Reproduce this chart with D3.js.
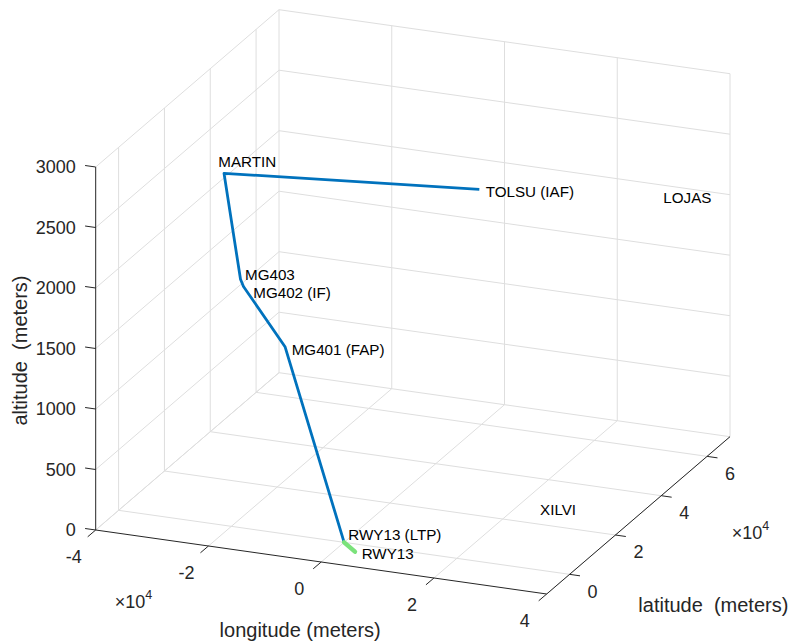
<!DOCTYPE html>
<html>
<head>
<meta charset="UTF-8">
<title>Approach RWY13</title>
<script src="https://cdnjs.cloudflare.com/ajax/libs/d3/7.8.5/d3.min.js"></script>
<style>
  body, html { margin: 0; padding: 0; background: #fff; overflow: hidden; }
  svg { font-family: "Liberation Sans", Arial, sans-serif; display: block; }
  text { white-space: pre; }
</style>
</head>
<body>
<div id="chart"></div>
<script>
// flown approach path (metres, relative to the RWY13 threshold)
const approachLon = [5180, -36520, -32380, -30650, -17940, 0];
const approachLat = [46270, 37440, 34450, 31490, 18350, 0];
const approachAlt = [2200, 2200, 1400, 1400, 1200, 0];

// runway segment
const runwayLon = [0, 3300];
const runwayLat = [0, -3400];
const runwayAlt = [0, 0];

// waypoint labels
const wpNames = ["TOLSU (IAF)", "MARTIN", "LOJAS", "MG403", "MG402 (IF)", "MG401 (FAP)", "XILVI", "RWY13 (LTP)", "RWY13"];
const wpLon = [6450, -39450, 34670, -32510, -28060, -16520, 30400, 500, 4620];
const wpLat = [45920, 42150, 54000, 36740, 29390, 17760, 10710, 600, -3700];
const wpAlt = [2200, 2200, 2200, 1400, 1400, 1200, 300, 60, 0];

// axes
const lonTicks = [-40000, -20000, 0, 20000, 40000];
const latTicks = [0, 20000, 40000, 60000];
const altTicks = [0, 500, 1000, 1500, 2000, 2500, 3000];

const W = 793, H = 643;
const svg = d3.select("#chart").append("svg").attr("width", W).attr("height", H);
svg.append("rect").attr("width", W).attr("height", H).attr("fill", "#fff");

const xS = d3.scaleLinear().domain([-40000, 40000]).range([0, 1]);
const yS = d3.scaleLinear().domain([-10000, 70000]).range([0, 1]);
const zS = d3.scaleLinear().domain([0, 3000]).range([0, 1]);

// orthographic view: screen vectors of the plot box edges
const O = [95.7, 530];
const EX = [451, 64], EY = [183.3, -157.3], EZ = [0, -363];

function proj(x, y, z) {
  const u = xS(x), v = yS(y), w = zS(z);
  return [O[0] + u * EX[0] + v * EY[0] + w * EZ[0],
          O[1] + u * EX[1] + v * EY[1] + w * EZ[1]];
}

const [x0, x1] = xS.domain(), [y0, y1] = yS.domain(), [z0, z1] = zS.domain();
const line3 = d3.line();
const grid = svg.append("g").attr("stroke", "#dedede").attr("stroke-width", 1).attr("fill", "none");
function seg(g, a, b) { g.append("path").attr("d", line3([proj(...a), proj(...b)])); }

// left wall (x = min)
latTicks.forEach(t => seg(grid, [x0, t, z0], [x0, t, z1]));
altTicks.forEach(t => seg(grid, [x0, y0, t], [x0, y1, t]));
// back wall (y = max)
lonTicks.forEach(t => seg(grid, [t, y1, z0], [t, y1, z1]));
altTicks.forEach(t => seg(grid, [x0, y1, t], [x1, y1, t]));
// floor
lonTicks.forEach(t => seg(grid, [t, y0, z0], [t, y1, z0]));
latTicks.forEach(t => seg(grid, [x0, t, z0], [x1, t, z0]));

// axis lines and ticks
const axc = "#262626";
const ax = svg.append("g").attr("stroke", axc).attr("stroke-width", 1).attr("fill", "none");
seg(ax, [x0, y0, z0], [x1, y0, z0]);
seg(ax, [x1, y0, z0], [x1, y1, z0]);
seg(ax, [x0, y0, z0], [x0, y0, z1]);

const tickTxt = svg.append("g").attr("fill", axc).style("font-size", "18px");

lonTicks.forEach(t => {
  const p = proj(t, y0, z0);
  ax.append("path").attr("d", line3([p, [p[0] - 8, p[1] + 6.8]]));
  tickTxt.append("text").attr("x", p[0] - 22).attr("y", p[1] + 27)
    .attr("text-anchor", "middle").attr("dominant-baseline", "central").text(t / 1e4);
});
latTicks.forEach(t => {
  const p = proj(x1, t, z0);
  ax.append("path").attr("d", line3([p, [p[0] + 10.4, p[1] + 1.5]]));
  tickTxt.append("text").attr("x", p[0] + 23).attr("y", p[1] + 17.4)
    .attr("text-anchor", "middle").attr("dominant-baseline", "central").text(t / 1e4);
});
altTicks.forEach(t => {
  const p = proj(x0, y0, t);
  ax.append("path").attr("d", line3([p, [p[0] - 10.6, p[1] - 1.5]]));
  tickTxt.append("text").attr("x", p[0] - 20).attr("y", p[1])
    .attr("text-anchor", "end").attr("dominant-baseline", "central").text(t);
});

// x10^4 exponent labels
function expLabel(x, y) {
  const t = tickTxt.append("text").attr("x", x).attr("y", y).attr("dominant-baseline", "central");
  t.append("tspan").text("\u00d710");
  t.append("tspan").attr("dy", -7).style("font-size", "12.5px").text("4");
}
const pL = proj(x0, y0, z0);
expLabel(pL[0] + 19, pL[1] + 71.7);
const pR = proj(x1, y1, z0);
expLabel(pR[0] + 1.7, pR[1] + 96.6);

// axis titles
const pLon = proj(0, y0, z0);
svg.append("text").attr("x", pLon[0] - 21).attr("y", pLon[1] + 68)
  .attr("text-anchor", "middle").attr("dominant-baseline", "central")
  .attr("fill", axc).style("font-size", "20px").text("longitude (meters)");
const pLat = proj(x1, 30000, z0);
svg.append("text").attr("x", pLat[0] + 75).attr("y", pLat[1] + 90)
  .attr("text-anchor", "middle").attr("dominant-baseline", "central")
  .attr("fill", axc).style("font-size", "20px").text("latitude  (meters)");
const pAlt = proj(x0, y0, 1500);
svg.append("text").attr("transform", `translate(${pAlt[0] - 76},${pAlt[1] + 2}) rotate(-90)`)
  .attr("text-anchor", "middle").attr("dominant-baseline", "central")
  .attr("fill", axc).style("font-size", "20px").text("altitude  (meters)");

// data lines
const approach = approachLon.map((d, i) => proj(d, approachLat[i], approachAlt[i]));
svg.append("path").attr("d", line3(approach)).attr("fill", "none")
  .attr("stroke", "#0072BD").attr("stroke-width", 2.8).attr("stroke-linejoin", "round");
const runway = runwayLon.map((d, i) => proj(d, runwayLat[i], runwayAlt[i]));
svg.append("path").attr("d", line3(runway)).attr("fill", "none")
  .attr("stroke", "#7be27b").attr("stroke-width", 4.5).attr("stroke-linecap", "round");

// waypoint names
svg.append("g").attr("fill", "#000").style("font-size", "15.2px")
  .selectAll("text").data(wpNames).join("text")
  .attr("x", (d, i) => proj(wpLon[i], wpLat[i], wpAlt[i])[0])
  .attr("y", (d, i) => proj(wpLon[i], wpLat[i], wpAlt[i])[1])
  .attr("dominant-baseline", "central")
  .text(d => d);
</script>
</body>
</html>
